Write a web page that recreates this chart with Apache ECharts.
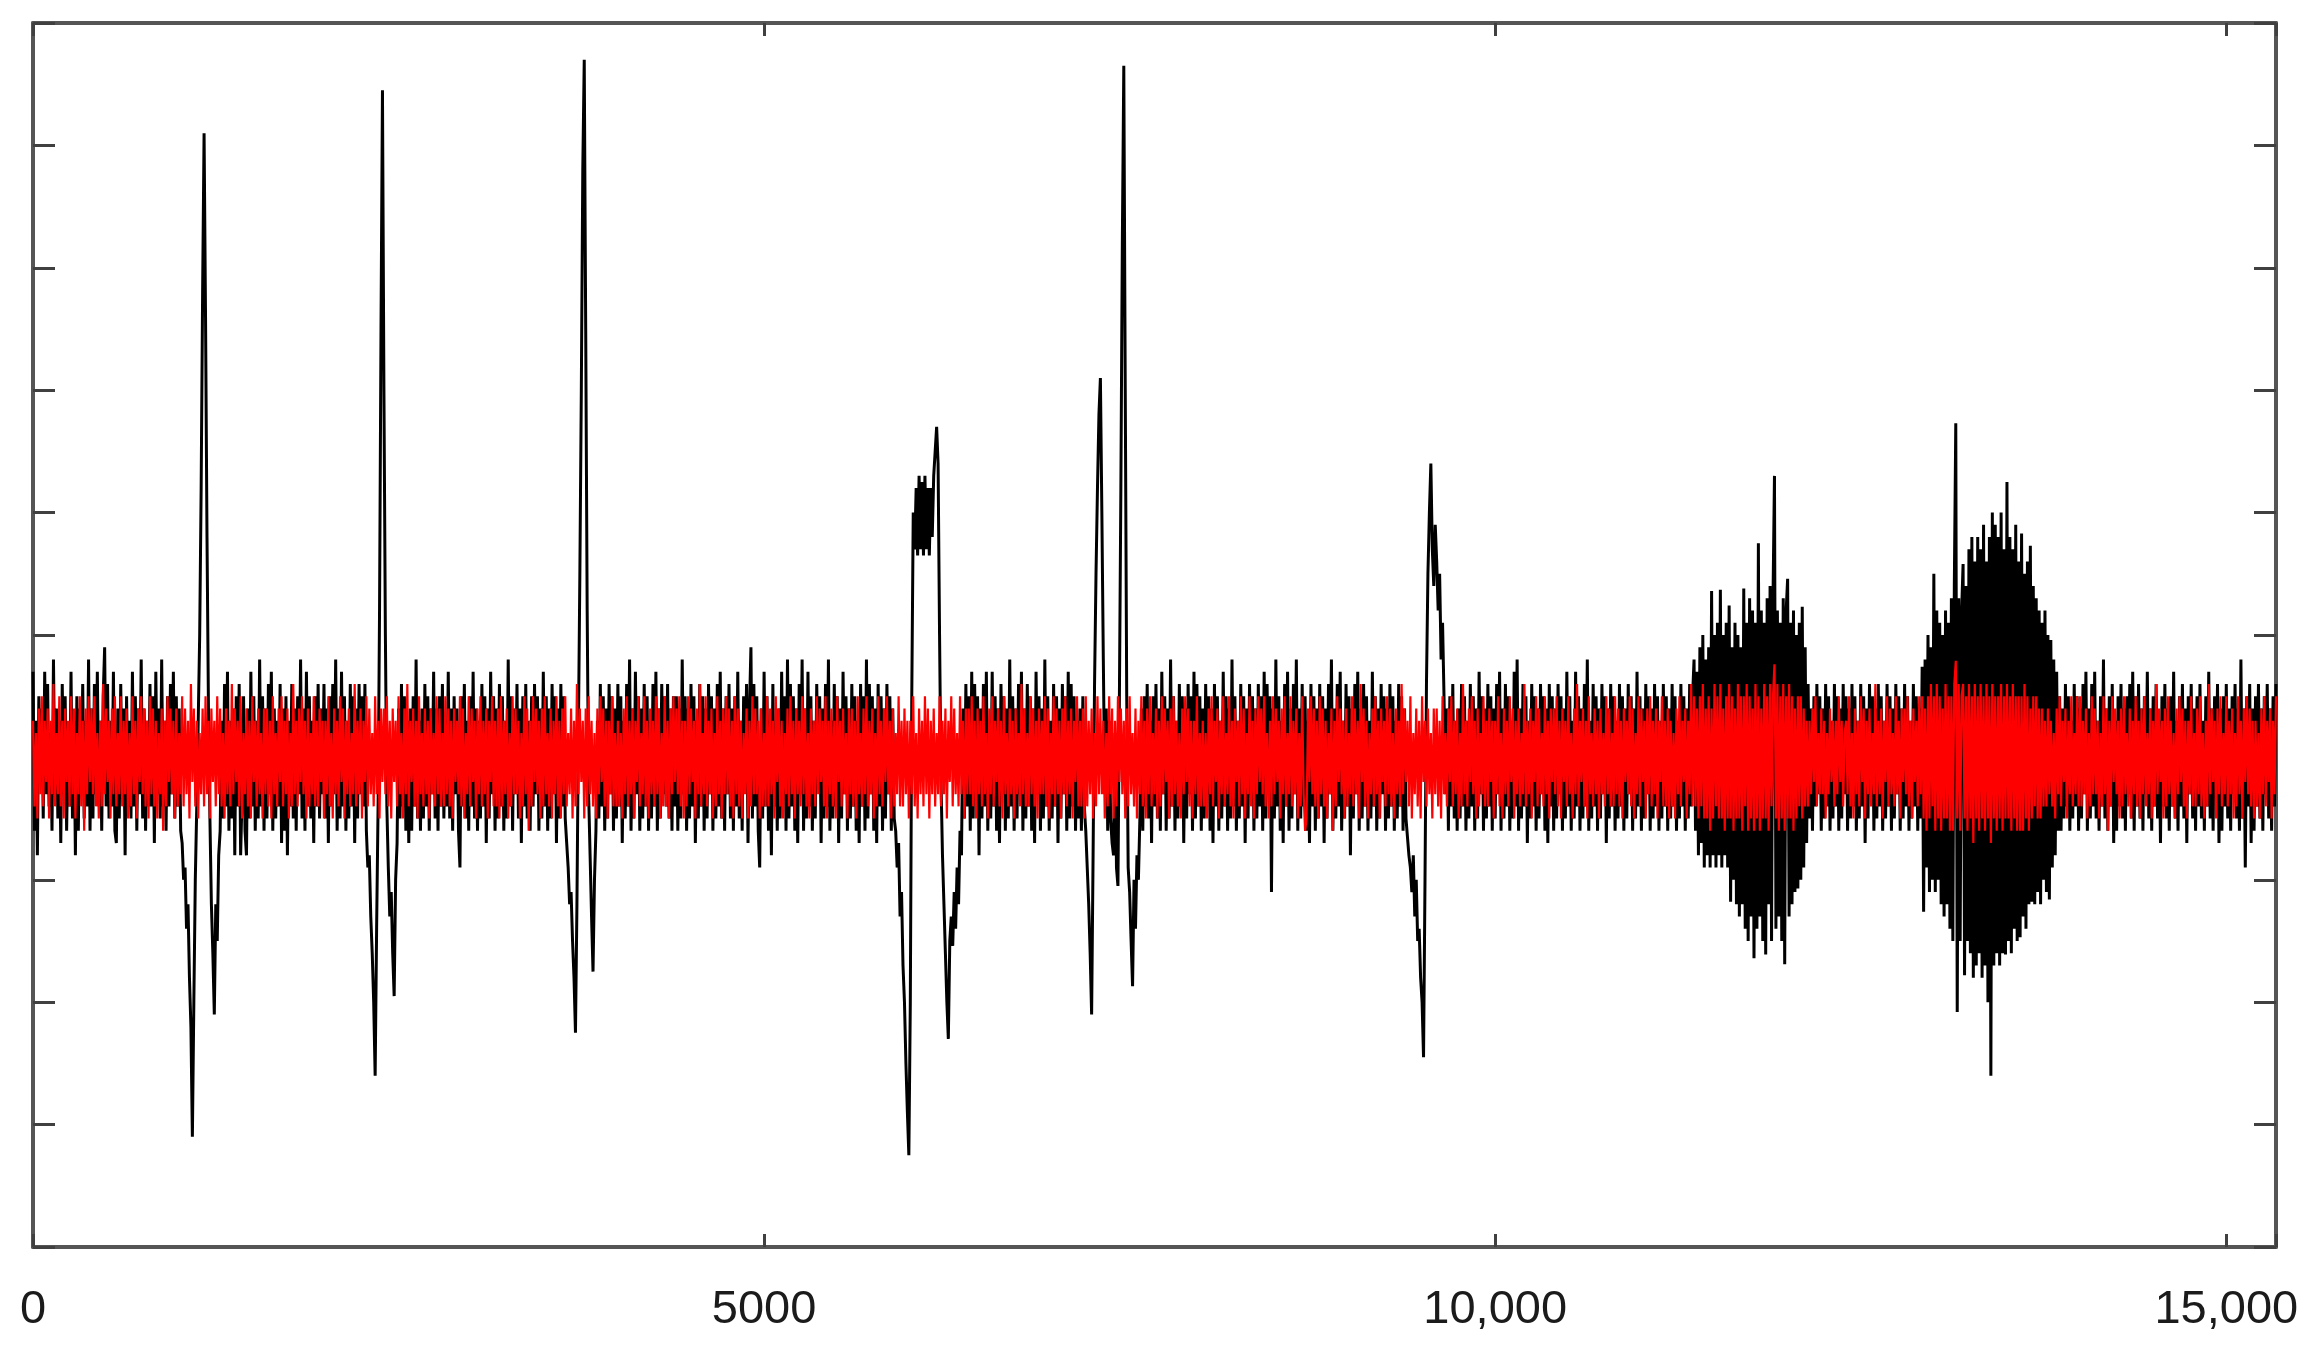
<!DOCTYPE html>
<html>
<head>
<meta charset="utf-8">
<script src="https://cdn.jsdelivr.net/npm/echarts@6/dist/echarts.min.js"></script>
<style>
html,body{margin:0;padding:0;background:#fff;}
#chart{width:2313px;height:1357px;}
</style>
</head>
<body>
<div id="chart"></div>
<script>
// samples are evenly spaced along x
const sampleStep = 10;
const xMax = 15340;
const xTickValues = [0, 5000, 10000, 15000];
const xTickLabels = ['0', '5000', '10,000', '15,000'];
// y axis carries no labels; values are in tenths of one tick interval
const yMin = -40, yMax = 60, yInterval = 10;

const blackSignal = [
7,-6,3,-8,5,-2,4,-5,7,-3,6,-4,2,-6,8,-3,4,-5,3,-7,6,-3,5,-6,2,-4,7,-5,3,-8,5,-6,4,-3,6,-5,3,-4,8,-6,
4,-5,6,-3,7,-4,3,-6,5,9,-4,6,-5,3,-4,7,-6,-7,4,-5,6,-3,4,-8,5,-4,3,-5,7,-4,5,-6,4,-3,8,-5,4,-6,3,-4,
6,-4,5,-7,7,-3,4,-5,8,-4,3,-6,5,-4,6,-3,7,-5,5,-4,4,-6,-7,-10,-9,-14,-12,-18,-22,-31,-20,-10,-4,3,10,22,38,51,36,18,
4,-5,-12,-16,-21,-12,-15,-8,-6,3,-5,6,-4,7,-6,3,-5,4,-8,5,-4,6,-8,-3,5,-6,-8,4,-5,7,-4,5,-6,3,-5,8,-4,5,-6,4,
-5,6,-3,7,-6,4,-5,3,-4,6,-7,4,-6,5,-8,3,-4,6,-5,4,-6,5,-3,8,-5,4,-6,7,-4,5,-5,3,-7,5,-4,6,-5,4,-3,6,
-5,4,-7,5,-4,6,-3,8,-6,4,-5,7,-4,5,-6,3,-5,6,-4,5,-7,4,-5,6,-3,5,-4,6,-6,-9,-8,-13,-16,-20,-26,-14,-4,12,35,54.5,
30,10,-4,-9,-13,-11,-16,-19.5,-10,-7,4,-5,6,-4,5,-6,3,-7,4,-6,5,-4,8,-5,3,-6,4,-5,6,-4,5,-6,4,-3,7,-5,4,-6,5,-4,
6,-5,3,-4,7,-5,4,-6,5,-3,4,-6,-9,5,-4,6,-5,3,-6,5,-4,7,-5,4,-6,3,-5,6,-4,5,-7,4,-5,7,-3,5,-6,4,-5,6,
-4,5,-6,3,-5,8,-4,5,-6,4,-3,6,-5,4,-7,5,-4,6,-5,3,-6,5,-4,6,-3,5,-6,4,-5,7,-4,5,-6,4,-5,6,-3,5,-7,4,
-5,6,-4,5,-5,-7,-9,-12,-11,-15,-18,-22.5,-12,2,15,30,48,57,35,12,-3,-8,-13,-17.5,-10,-6,3,-5,6,-4,5,-6,4,-5,6,-3,5,-6,4,-5,
6,-4,5,-7,3,-5,6,-4,8,-6,4,-5,7,-3,5,-6,4,-5,6,-4,5,-6,3,-5,6,-4,7,-6,4,-5,6,-3,5,-4,6,-5,4,-6,5,-4,
5,-6,4,-5,8,-3,5,-6,4,-5,6,-4,5,-7,3,-5,6,-4,5,-6,4,-5,6,-3,5,-6,4,-5,6,-4,7,-5,4,-6,5,-3,6,-5,4,-6,
5,-4,7,-5,3,-6,5,-2,6,-7,4,9,-5,6,-4,5,-6,-9,4,-5,7,-4,5,-6,3,-8,6,-4,2,-6,4,-5,7,-3,5,-6,8,-5,6,-4,
5,-6,4,-7,6,-3,8,-6,4,-5,7,-4,5,-6,3,-5,6,-2,5,-7,4,-5,6,-4,8,-6,3,-5,6,-4,5,-7,4,-5,7,-3,5,-6,4,-5,
6,-4,5,-6,3,-7,6,-4,5,-6,8,-5,6,-3,5,-6,4,-7,6,-4,5,-6,4,-5,6,-3,5,-6,4,-5,-6,-9,-7,-13,-11,-17,-20,-25,-29,-32.5,
-20,5,20,17,22,16.5,23,17,22.5,16.5,23,17,22,16.5,22,18,23,25,27,24,10,-2,-8,-12,-16,-20,-23,-15,-13,-15.4,-11,-14,-9,-12,-6,-8,4,-5,6,-4,
5,-6,7,-5,6,-3,5,-8,4,-5,6,-4,7,-6,3,-5,7,-4,5,-6,4,-7,6,-3,5,-6,4,-5,8,-4,5,-6,4,-5,6,-3,7,-6,4,-5,
6,-4,5,-6,4,-7,7,-3,5,-6,4,-5,8,-4,5,-6,3,-5,6,-4,5,-7,4,-5,6,-3,5,-6,7,-5,6,-4,5,-6,3,-5,4,-6,5,-4,
-6,-9,-12,-16,-21,-8,6,15,22,28,31,20,8,-3,4,-6,3,-5,-7,-8,2,-9,-10.5,5,22,42,56.5,30,5,-9,-11,-15,-18.7,-10,-14,-8,-10,-5,4,-6,
5,-4,6,-5,3,-7,5,-4,6,-5,4,-6,7,-3,5,-6,4,-5,8,-4,5,-6,3,-5,6,-4,5,-7,4,-5,6,-3,5,-6,7,-5,6,-4,5,-6,
4,-5,6,-3,5,-6,4,-7,6,-4,5,-6,3,-5,7,-4,5,-6,4,-5,8,-4,5,-6,3,-5,6,-4,5,-7,4,-5,6,-3,5,-6,4,-5,6,-4,
5,-6,7,-5,6,-3,5,-11,4,-5,8,-4,5,-6,3,-7,6,-4,7,-6,4,-5,6,-3,8,-6,4,-5,6,-4,5,-6,3,-7,6,-4,5,-6,4,-5,
6,-4,5,-7,4,-5,6,-3,8,-6,4,-5,6,-4,7,-6,3,-5,6,-4,5,-8,4,-5,6,-3,7,-6,4,-5,6,-4,5,-6,3,-5,7,-4,5,-6,
4,-5,6,-3,5,-6,4,-5,6,-4,5,-6,3,-5,6,-4,5,-6,4,-5,-5,-8,-9,-11,-8,-13,-10,-15,-14,-18,-20,-24.5,-10,6,15,20,24,17,14,19,
16,12,15,8,11,5,-3,4,-6,5,-4,6,-5,3,-6,4,-5,6,-4,5,-6,3,-5,6,-4,5,-6,4,-5,7,-3,5,-6,4,-5,6,-4,5,-6,4,
-5,6,-3,7,-6,4,-5,6,-4,5,-6,3,-5,7,-4,8,-6,4,-5,6,-4,5,-7,3,-5,6,-4,5,-6,4,-5,6,-3,5,-6,4,-7,6,-4,5,
-6,4,-5,6,-3,5,-6,4,-5,7,-4,5,-6,3,-5,7,-4,5,-6,4,-5,6,-4,8,-6,3,-5,6,-4,5,-6,4,-5,6,-3,5,-7,4,-5,6,
-4,5,-6,3,-5,6,-4,5,-6,4,-5,6,-3,5,-6,4,-5,7,-4,5,-6,4,-5,6,-3,5,-6,4,-5,6,-4,5,-6,3,-5,6,-4,5,-6,4,
-5,6,-4,5,-6,3,-5,6,-4,5,-6,4,-5,6,-4,5,8,-6,7,-8,9,-7,10,-9,8,-8,9,-9,13.6,-8,10,-9,11,-8,13.7,-9,10,-8,11,-9,
12.4,-11.8,9,-10,11,-12,10,-13,9,-12,13.8,-14,11,-15,13,-13,12,-16.4,11,-14,17.5,-13,12,-15,11,-16.1,13,-12,14,-15,13,23,-14,12,-13,11,-15,13,-16.9,12,
14.6,-13,11,-12,12,-11,10,-10.7,11,-10,12.3,-9,9,-7,6,-5,4,-6,5,-4,6,-3,5,-6,4,-5,6,-4,5,-6,3,-5,6,-4,5,-6,4,-5,6,-3,
5,-6,4,-5,6,-4,5,-6,3,-5,6,-4,5,-7,4,-5,6,-3,5,-6,4,-5,6,-4,5,-6,3,-5,6,-4,5,-6,4,-5,6,-3,5,-6,4,-5,
6,-4,5,-6,3,-5,6,-4,5,-6,4,-5,7.4,-12.6,8,-9,10,-11,9,-10,15,-11,12,-10,11,-12,10,-13,12,-12,11,-14,13,-15,14,27.3,-20.8,13,-15,12,
15.8,-17.8,14,-15,17,-16,18,-18,16,-17,18,-16,17,-18,19,-17,16,-20,18,-26,20,-17,19,-16,18,-17,20,-16,17,-16.1,22.5,-15,18,-16,17,-14,19,-15,16,-14.7,
18.3,-13,15,-14,16,-12,17.3,-11.8,14,-12,13,-11,12,-12,11,-10,12,-11,10,-11.6,9.6,-9,8,-8,7,-6,5,-6,4,-5,6,-4,5,-6,3,-5,6,-4,5,-6,
4,-5,6,-3,7,-6,4,-5,6,-4,7,-5,3,-6,5,-4,8,-5,4,-6,5,-4,6,-7,3,-6,5,-4,6,-5,4,-6,5,-3,6,-5,7,-6,5,-4,
6,-5,4,-6,5,-3,7,-5,4,-6,5,-4,6,-5,3,-7,5,-4,6,-5,4,-6,5,-4,7,-5,3,-6,5,-4,6,-5,4,-7,5,-3,6,-5,4,-6,
5,-4,6,-5,3,-6,5,-4,7,-5,4,-6,5,-3,6,-7,4,-6,5,-4,6,-5,4,-6,5,-3,6,-5,4,-6,8,-5,4,-9,5,-4,6,-7,4,-6,
5,-4,6,-5,4,-6,5,-3,6,-5,4,-6,5,-4,6
];

const redSignal = [
3,-4,2,-5,4,-3,5,-4,3,-2,4,-5,3,-3,6,-4,2,-3,5,-4,3,-5,4,-2,3,-4,5,-3,4,-5,2,-3,5,-4,3,-6,4,-3,5,-2,
4,-3,5,-4,2,-5,3,-4,6,-3,4,-2,3,-5,4,-3,5,-4,2,-3,5,-4,3,-3,4,-5,2,-4,5,-3,3,-5,4,-2,5,-3,4,-4,3,-5,
5,-3,4,-4,3,-5,2,-3,4,-6,3,-4,5,-2,4,-3,3,-5,4,-4,2,-3,5,-4,4,-3,3,-5,6,-2,4,-4,3,-5,2,-3,4,-4,5,-3,
3,-5,4,-2,3,-4,5,-3,4,-4,2,-5,4,-3,3,-4,6,-3,4,-2,3,-4,5,-5,2,-3,4,-4,3,-5,5,-2,3,-4,4,-3,2,-5,4,-3,
4,-4,3,-5,5,-3,2,-4,4,-2,5,-4,3,-3,4,-5,2,-4,6,-3,3,-4,4,-2,5,-3,3,-5,4,-4,2,-3,5,-4,3,-4,4,-2,3,-5,
3,-3,5,-4,2,-5,4,-3,3,-4,5,-2,4,-5,3,-3,4,-4,2,-3,6,-4,3,-3,4,-5,3,-2,5,-4,4,-3,2,-4,5,-3,3,-5,4,-2,
4,-3,5,-4,3,-5,4,-2,3,-4,5,-3,2,-5,4,-3,6,-4,3,-2,4,-4,3,-5,5,-3,2,-4,4,-3,3,-5,4,-3,2,-4,5,-3,4,-4,
2,-4,5,-3,4,-4,3,-5,4,-2,3,-3,5,-4,4,-5,2,-3,5,-4,4,-2,3,-5,4,-3,5,-4,3,-3,4,-5,3,-2,5,-4,3,-4,4,-5,
5,-4,3,-3,4,-5,2,-4,5,-3,4,-3,3,-5,2,-4,5,-3,4,-6,3,-4,5,-2,4,-3,3,-5,4,-4,5,-3,2,-4,4,-5,3,-3,5,-4,
3,-5,4,-3,5,-4,2,-3,4,-5,3,-4,6,-3,4,-2,3,-5,4,-4,5,-3,3,-4,2,-5,4,-3,5,-2,4,-4,3,-5,3,-3,5,-4,2,-4,
3,-4,2,-5,4,-3,5,-4,3,-3,4,-5,3,-2,5,-4,2,-3,5,-4,3,-5,4,-3,3,-4,5,-3,4,-5,2,-4,5,-4,3,-5,4,-3,5,-2,
4,-3,5,-4,3,-5,3,-4,5,-3,4,-2,3,-5,4,-3,6,-4,2,-3,5,-4,3,-3,4,-5,2,-4,5,-3,3,-5,4,-3,5,-3,4,-4,3,-5,
5,-3,4,-4,3,-5,2,-3,4,-5,3,-4,5,-3,4,-3,3,-5,4,-4,2,-4,5,-4,4,-3,3,-5,5,-2,4,-4,3,-5,2,-3,4,-4,5,-3,
3,-5,4,-3,3,-4,5,-3,4,-4,2,-5,4,-3,3,-4,5,-3,4,-2,3,-4,5,-5,3,-3,4,-4,3,-5,5,-2,3,-4,4,-3,2,-5,4,-3,
4,-4,3,-5,5,-3,2,-4,4,-3,5,-4,3,-3,4,-5,2,-4,5,-3,3,-4,4,-2,5,-3,3,-5,4,-4,2,-3,5,-4,3,-4,4,-3,3,-5,
3,-3,5,-4,2,-5,4,-3,3,-4,5,-3,4,-5,3,-3,4,-4,2,-3,5,-4,3,-3,4,-5,3,-2,5,-4,4,-3,2,-4,5,-3,3,-5,4,-3,
4,-3,5,-4,3,-5,4,-3,3,-4,5,-3,2,-5,4,-3,5,-4,3,-2,4,-4,3,-5,5,-3,2,-4,4,-3,3,-5,4,-3,2,-4,6,-3,4,-4,
2,-4,5,-3,4,-4,3,-5,4,-3,3,-3,5,-4,4,-5,2,-3,5,-4,4,-3,3,-5,4,-3,5,-4,3,-3,4,-5,3,-2,5,-4,3,-4,4,-5,
5,-4,3,-3,4,-5,2,-4,5,-3,4,-3,3,-5,2,-4,5,-3,4,-5,3,-4,5,-2,4,-3,3,-5,4,-4,5,-3,2,-4,4,-5,3,-3,5,-4,
3,-5,4,-3,5,-4,2,-3,4,-5,3,-4,5,-3,4,-2,3,-5,4,-4,5,-3,3,-4,2,-5,4,-3,5,-2,4,-4,3,-5,3,-3,5,-4,2,-4,
3,-4,2,-5,4,-3,5,-4,3,-2,4,-5,3,-3,5,-4,2,-3,5,-4,3,-5,4,-2,3,-4,5,-3,4,-5,2,-3,5,-4,3,-5,4,-3,5,-2,
4,-3,5,-4,2,-5,3,-4,5,-3,4,-2,3,-5,4,-3,5,-4,2,-3,5,-4,3,-3,4,-5,2,-4,5,-3,-6,-5,4,-2,5,-3,4,-4,3,-5,
5,-3,4,-4,3,-5,2,-3,4,-6,3,-4,5,-2,4,-3,3,-5,4,-4,2,-3,5,-4,4,-3,3,-5,6,-2,4,-4,3,-5,2,-3,4,-4,5,-3,
3,-5,4,-2,3,-4,5,-3,4,-4,2,-5,4,-3,3,-4,6,-3,4,-2,3,-4,5,-5,2,-3,4,-4,3,-5,5,-2,3,-4,4,-3,2,-5,4,-3,
4,-4,3,-5,5,-3,2,-4,4,-2,5,-4,3,-3,4,-5,2,-4,6,-3,3,-4,4,-2,5,-3,3,-5,4,-4,2,-3,5,-4,3,-4,4,-2,3,-5,
3,-3,5,-4,2,-5,4,-3,3,-4,5,-2,4,-5,3,-3,4,-4,2,-3,6,-4,3,-3,4,-5,3,-2,5,-4,4,-3,2,-4,5,-3,3,-5,4,-2,
4,-3,5,-4,3,-5,4,-2,3,-4,5,-3,2,-5,4,-3,6,-4,3,-2,4,-4,3,-5,5,-3,2,-4,4,-3,3,-5,4,-3,2,-4,5,-3,4,-4,
2,-4,5,-3,4,-4,3,-5,4,-2,3,-3,5,-4,4,-5,2,-3,5,-4,4,-2,3,-5,4,-3,5,-4,3,-3,4,-5,3,-2,5,-4,3,-4,4,-5,
3,-4,2,-5,4,-3,5,-4,3,-2,4,-5,3,-3,6,-4,5,-4,4,-5,5,-4,6,-5,4,-5,5,-6,4,-5,6,-4,5,-5,6,-5,4,-6,5,-5,
6,-5,5,-6,4,-5,6,-5,5,-6,5,-4,6,-6,5,-5,4,-6,6,-5,5,-6,4,-5,6,-5,5,-6,6,-4,5,7.6,-5,6,-6,5,-5,6,-6,5,
-5,6,-5,5,-6,4,-5,5,-4,5,-5,4,-4,3,-4,3,-3,4,-2,5,-4,2,-3,4,-3,3,-5,2,-3,4,-2,3,-4,3,-3,5,-2,3,-4,2,
3,-3,5,-4,2,-5,4,-3,3,-4,5,-2,4,-5,3,-3,4,-4,2,-3,6,-4,3,-3,4,-5,3,-2,5,-4,4,-3,2,-4,5,-3,3,-5,4,-2,
4,-3,5,-4,3,-5,4,-2,3,-4,5,-3,5,-5,4,-6,5,-5,6,-4,5,-6,6,-5,5,-6,4,-5,6,-5,5,-6,5,-6,6,7.9,-5,6,-6,5,
6,-5,5,-6,6,-5,5,-7,6,-5,5,-6,6,-5,5,-6,6,-5,5,-7,6,-5,5,-6,5,-5,6,-6,5,-5,6,-5,5,-6,6,-5,5,-6,5,-6,
5,-6,6,-5,5,-6,4,-5,5,-4,5,-5,4,-5,4,-4,3,-4,4,-3,3,-4,2,-5,4,-3,5,-4,3,-2,4,-5,3,-3,5,-4,2,-3,5,-4,
5,-4,3,-3,4,-5,2,-4,5,-3,4,-3,3,-5,2,-4,5,-3,4,-6,3,-4,5,-2,4,-3,3,-5,4,-4,5,-3,2,-4,4,-5,3,-3,5,-4,
3,-5,4,-3,5,-4,2,-3,4,-5,3,-4,6,-3,4,-2,3,-5,4,-4,5,-3,3,-4,2,-5,4,-3,5,-2,4,-4,3,-5,3,-3,5,-4,2,-4,
4,-3,5,-4,2,-5,3,-4,6,-3,4,-2,3,-5,4,-3,5,-4,2,-3,5,-4,3,-3,4,-5,2,-4,5,-3,3,-5,4,-2,5,-3,4,-4,3,-5,
3,-4,2,-5,4,-3,5,-4,3,-2,4,-5,3,-3,5
];

const sampleCount = Math.round(xMax / sampleStep) + 1;
function toPairs(arr){ return arr.map((v,i)=>[i*sampleStep, v]); }

const frameColor = '#555555';
const tickStyle = {color:'#404040', width:3};

function xAxisDef(pos, showLabels){
  return {
    type:'value', position:pos, min:0, max:xMax, interval:5000,
    axisLine:{show:true, onZero:false, lineStyle:{color:frameColor, width:4}},
    axisTick:{show:true, inside:true, length:13, lineStyle:tickStyle},
    splitLine:{show:false},
    axisLabel:{
      show:showLabels, margin:40, fontFamily:'Liberation Sans, Arial, sans-serif',
      fontSize:47, color:'#1b1b1b',
      formatter:function(v){ const k = xTickValues.indexOf(v); return k>=0 ? xTickLabels[k] : ''; }
    }
  };
}
function yAxisDef(pos){
  return {
    type:'value', position:pos, min:yMin, max:yMax, interval:yInterval,
    axisLine:{show:true, onZero:false, lineStyle:{color:frameColor, width:4}},
    axisTick:{show:true, inside:true, length:22, lineStyle:tickStyle},
    splitLine:{show:false},
    axisLabel:{show:false}
  };
}

const chart = echarts.init(document.getElementById('chart'), null, {renderer:'canvas'});
chart.setOption({
  animation:false,
  backgroundColor:'#ffffff',
  grid:{left:33, right:37, top:23, bottom:110, containLabel:false},
  xAxis:[xAxisDef('bottom', true), xAxisDef('top', false)],
  yAxis:[yAxisDef('left'), yAxisDef('right')],
  series:[
    {type:'line', name:'black', xAxisIndex:0, yAxisIndex:0, data:toPairs(blackSignal),
     showSymbol:false, symbol:'none', sampling:null, lineStyle:{color:'#000000', width:3}, z:2},
    {type:'line', name:'red', xAxisIndex:0, yAxisIndex:0, data:toPairs(redSignal),
     showSymbol:false, symbol:'none', sampling:null, lineStyle:{color:'#ff0000', width:2.2}, z:3}
  ]
});
if (blackSignal.length !== sampleCount || redSignal.length !== sampleCount) {
  console.error('length mismatch', blackSignal.length, redSignal.length, sampleCount);
}
</script>
</body>
</html>
